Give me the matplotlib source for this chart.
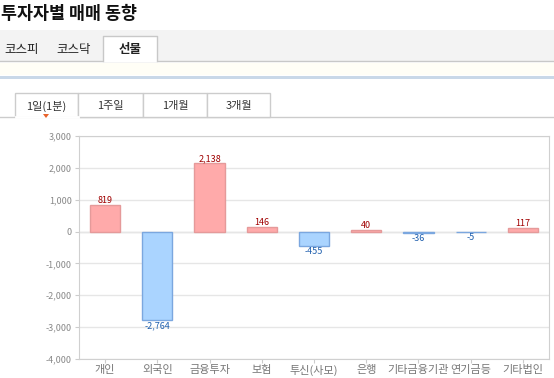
import matplotlib.pyplot as plt
from matplotlib.patches import Rectangle, Polygon
import numpy as np

plt.rcParams['font.family'] = ['Noto Sans CJK KR', 'DejaVu Sans']

categories = ['개인', '외국인', '금융투자', '보험', '투신(사모)', '은행', '기타금융기관', '연기금등', '기타법인']
values = [819, -2764, 2138, 146, -455, 40, -36, -5, 117]
yticks = [3000, 2000, 1000, 0, -1000, -2000, -3000, -4000]
main_tabs = ['코스피', '코스닥', '선물']
sub_tabs = ['1일(1분)', '1주일', '1개월', '3개월']

W, H = 554, 378
fig = plt.figure(figsize=(W / 100, H / 100), dpi=100)

# background layer in pixel coords
bg = fig.add_axes([0, 0, 1, 1])
bg.set_xlim(0, W)
bg.set_ylim(H, 0)
bg.axis('off')

bg.text(1, 14, '투자자별 매매 동향', fontsize=12.5, fontweight='bold', va='center', ha='left', color='#111111')

# main tab bar
bg.add_patch(Rectangle((0, 30), W, 31, facecolor='#f3f3f3', edgecolor='none'))
bg.plot([0, W], [61, 61], color='#c8c8c8', lw=1)
bg.add_patch(Rectangle((103, 36), 54, 26, facecolor='white', edgecolor='none', zorder=3))
bg.plot([103, 103, 157, 157], [61, 36, 36, 61], color='#c8c8c8', lw=1, zorder=4)
for name, x in zip(main_tabs, [22, 74, 130]):
    bg.text(x, 49, name, fontsize=9, ha='center', va='center',
            fontweight='bold' if name == '선물' else 'normal', color='#222222', zorder=5)

bg.add_patch(Rectangle((0, 63), W, 12, facecolor='#fffef6', edgecolor='none'))
bg.add_patch(Rectangle((0, 76), W, 2.5, facecolor='#c9d8e8', edgecolor='none'))

# sub tabs
bg.plot([0, W], [116.5, 116.5], color='#cccccc', lw=1)
edges = [15, 78, 143, 207, 270]
for i, name in enumerate(sub_tabs):
    x0, x1 = edges[i], edges[i + 1]
    bg.add_patch(Rectangle((x0, 93), x1 - x0, 24, facecolor='white', edgecolor='#cccccc', lw=1, zorder=2))
    bg.text((x0 + x1) / 2, 106, name, fontsize=8, ha='center', va='center', color='#333333', zorder=3)
bg.plot([15.5, 77.5], [117, 117], color='white', lw=2, zorder=3)
bg.add_patch(Polygon([[43, 114], [49, 114], [46, 118]], closed=True, facecolor='#e8622a', edgecolor='none', zorder=4))

# chart axes
left, right, top, bottom = 79, 549, 136, 359
ax = fig.add_axes([left / W, (H - bottom) / H, (right - left) / W, (bottom - top) / H])
x = np.arange(len(categories))
pos_face, pos_edge = '#ffaaaa', '#e59a9a'
neg_face, neg_edge = '#aad4ff', '#7ba7df'
faces = [pos_face if v >= 0 else neg_face for v in values]
edgecs = [pos_edge if v >= 0 else neg_edge for v in values]
ax.bar(x, values, width=0.58, color=faces, edgecolor=edgecs, linewidth=1, zorder=3)
ax.set_xlim(-0.5, len(categories) - 0.5)
ax.set_ylim(-4000, 3000)
ax.set_yticks(yticks)
ax.set_yticklabels([f'{t:,}' for t in yticks])
ax.set_xticks(x)
ax.set_xticklabels(categories)
ax.grid(axis='y', color='#e6e6e6', lw=1, zorder=0)
ax.axhline(0, color='#dddddd', lw=1, zorder=1)
for s in ax.spines.values():
    s.set_color('#d0d0d0')
ax.tick_params(axis='y', labelsize=6.5, labelcolor='#888888', color='#cccccc', length=3, pad=2)
ax.tick_params(axis='x', labelsize=8, labelcolor='#777777', color='#cccccc', length=3, pad=1)

for xi, v in zip(x, values):
    if v >= 0:
        ax.annotate(f'{v:,}', (xi, v), xytext=(0, 0), textcoords='offset points',
                    ha='center', va='bottom', fontsize=6.5, color='#a00000')
    else:
        ax.annotate(f'{v:,}', (xi, v), xytext=(0, -1), textcoords='offset points',
                    ha='center', va='top', fontsize=6.5, color='#1f5fae')

fig.savefig('out.png', dpi=100)
